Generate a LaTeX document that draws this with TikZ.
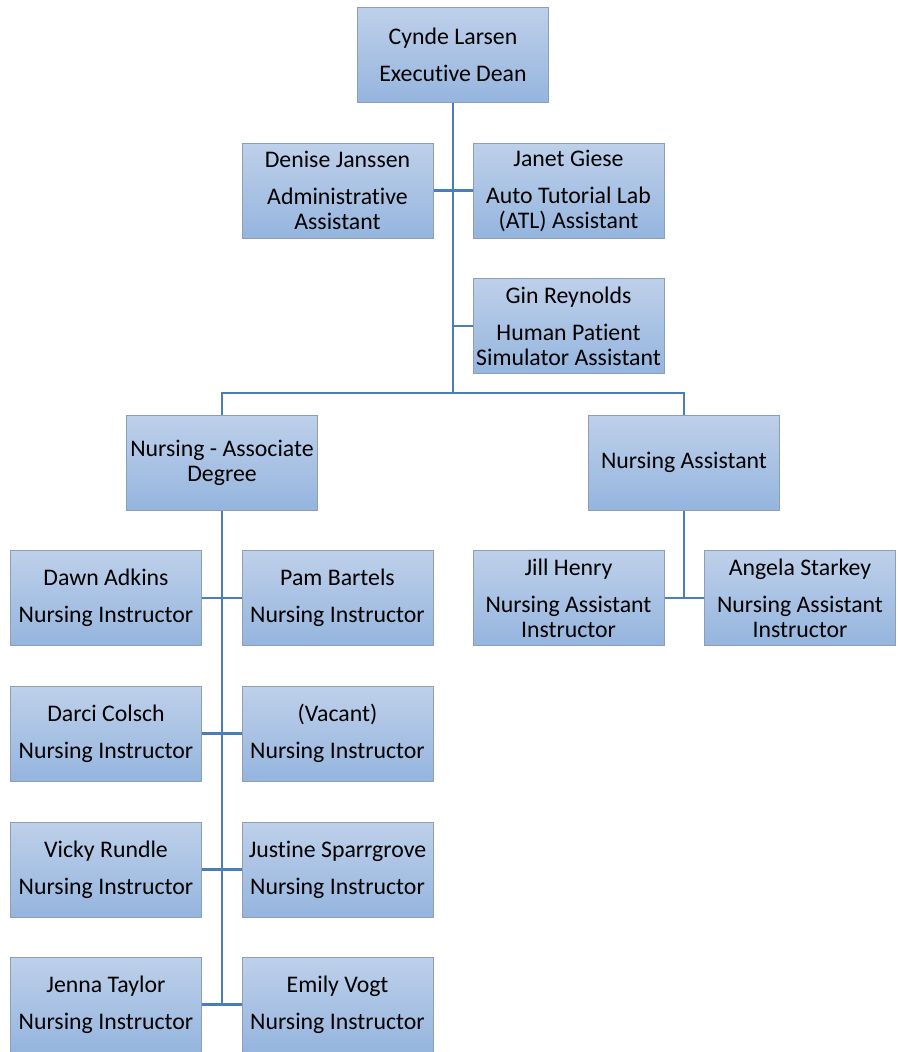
\documentclass[tikz,border=0pt]{standalone}
\usepackage{fontspec}
\setmainfont{Carlito}[Ligatures=NoCommon]
\usepackage{tikz}
\usetikzlibrary{backgrounds}
\definecolor{boxtop}{RGB}{190,208,234}
\definecolor{boxbot}{RGB}{149,181,222}
\definecolor{boxline}{RGB}{140,158,184}
\definecolor{linkblue}{RGB}{74,126,187}
\tikzstyle{person} = [rectangle, draw=boxline, line width=0.8pt, top color=boxtop,
    bottom color=boxbot, align=center, minimum width=191pt, minimum height=95pt,
    inner sep=0pt, font=\fontsize{23.8}{25}\selectfont]

\begin{document}
\begin{tikzpicture}[
x=1pt, y=-1pt,
link/.style = {draw=linkblue, line width=2.8pt},
                        ]
\useasboundingbox (0,0) rectangle (897,1052);
% top
\node [person] (cynde) at (453,55) {Cynde Larsen\\[12pt]Executive Dean};
% assistants
\node [person] (denise) at (337.5,190.5) {Denise Janssen\\[12pt]Administrative\\Assistant};
\node [person] (janet) at (568.5,190.5) {Janet Giese\\[12pt]Auto Tutorial Lab\\(ATL) Assistant};
\node [person] (gin) at (568.5,326) {Gin Reynolds\\[12pt]Human Patient\\Simulator Assistant};
% programs
\node [person] (ad) at (222,462.5) {Nursing - Associate\\Degree};
\node [person] (na) at (684,462.5) {Nursing Assistant};
% instructors
\node [person] (dawn) at (106,598) {Dawn Adkins\\[12pt]Nursing Instructor};
\node [person] (pam) at (337.5,598) {Pam Bartels\\[12pt]Nursing Instructor};
\node [person] (darci) at (106,733.5) {Darci Colsch\\[12pt]Nursing Instructor};
\node [person] (vacant) at (337.5,733.5) {(Vacant)\\[12pt]Nursing Instructor};
\node [person] (vicky) at (106,869.5) {Vicky Rundle\\[12pt]Nursing Instructor};
\node [person] (justine) at (337.5,869.5) {Justine Sparrgrove\\[12pt]Nursing Instructor};
\node [person] (jenna) at (106,1004.5) {Jenna Taylor\\[12pt]Nursing Instructor};
\node [person] (emily) at (337.5,1004.5) {Emily Vogt\\[12pt]Nursing Instructor};
\node [person] (jill) at (568.5,598) {Jill Henry\\[12pt]Nursing Assistant\\Instructor};
\node [person] (angela) at (800,598) {Angela Starkey\\[12pt]Nursing Assistant\\Instructor};
\coordinate (split) at (453,393);
\begin{scope}[on background layer]
\draw [link] (cynde.south) -- (split);
\draw [link] (denise.east) -- (janet.west);
\draw [link] (gin.west) -- (gin.west -| split);
\draw [link] (ad.north) |- (split) -| (na.north);
\draw [link] (ad.south) -- (ad.south |- jenna.east);
\foreach \l/\r in {dawn/pam, darci/vacant, vicky/justine, jenna/emily}
  \draw [link] (\l.east) -- (\r.west);
\draw [link] (na.south) -- (na.south |- jill.east);
\draw [link] (jill.east) -- (angela.west);
\end{scope}
\end{tikzpicture}
\end{document}
